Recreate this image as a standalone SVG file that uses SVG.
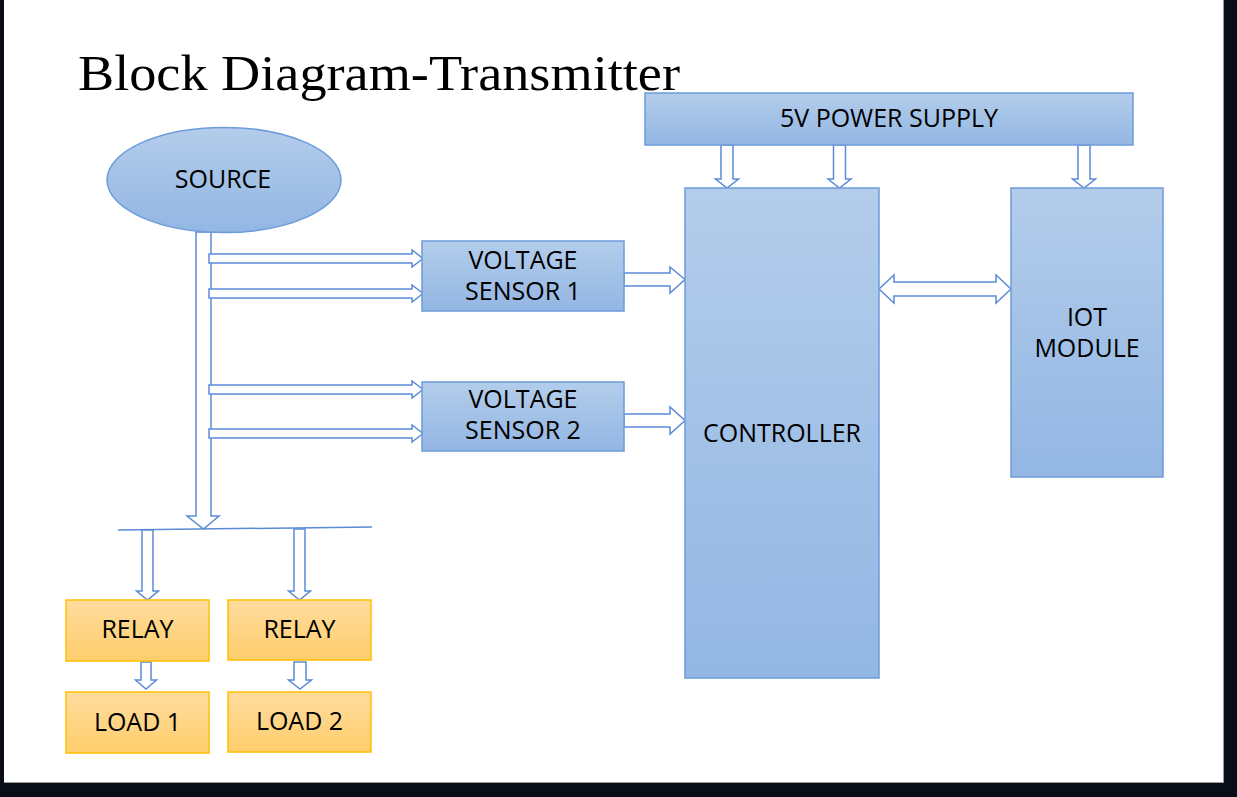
<svg xmlns="http://www.w3.org/2000/svg" width="1237" height="797" viewBox="0 0 1237 797">
<style>
.blk{stroke:#6E9BD9;stroke-width:1.5}
.org{stroke:#FFC000;stroke-width:1.5}
.lbl{font-family:"Open Sans","Noto Sans","Liberation Sans",sans-serif;font-size:25px;fill:#000;text-anchor:middle}
.arr{fill:#FFFFFF;stroke:#5B8BD6;stroke-width:1.5;stroke-linejoin:miter}
.ln{stroke:#5B8BD6;stroke-width:1.5;fill:none}
</style>
<defs>
<linearGradient id="gb" x1="0" y1="0" x2="0" y2="1">
<stop offset="0" stop-color="#B3CDEB"/>
<stop offset="1" stop-color="#93B6E3"/>
</linearGradient>
<linearGradient id="go" x1="0" y1="0" x2="0" y2="1">
<stop offset="0" stop-color="#FFDC9E"/>
<stop offset="1" stop-color="#FFCE6C"/>
</linearGradient>
</defs>
<rect x="0" y="0" width="1237" height="797" fill="#080D17"/>
<rect x="4" y="0" width="1220" height="783" fill="#FFFFFF"/>
<line x1="1223.5" y1="0" x2="1223.5" y2="783" stroke="#9A9A9A" stroke-width="1"/>
<line x1="4" y1="782.5" x2="1224" y2="782.5" stroke="#9A9A9A" stroke-width="1"/>

<text x="78" y="90" font-family="'Liberation Serif','Times New Roman',serif" font-size="50" textLength="602" lengthAdjust="spacingAndGlyphs" fill="#000">Block Diagram-Transmitter</text>

<g id="connectors">
<polygon class="arr" points="196,232 211,232 211,516 219,516 203.5,529 187,516 196,516"/>
<polygon class="arr" points="209,254 412,254 412,250 423,258.5 412,267 412,263 209,263"/>
<polygon class="arr" points="209,289 412,289 412,285 423,293.5 412,302 412,298 209,298"/>
<polygon class="arr" points="209,385 412,385 412,381 423,389.5 412,398 412,394 209,394"/>
<polygon class="arr" points="209,429 412,429 412,425 423,433.5 412,442 412,438 209,438"/>
<polygon class="arr" points="624,273 670,273 670,267 685,279.5 670,293 670,286 624,286"/>
<polygon class="arr" points="624,414 670,414 670,407 685,420.5 670,434 670,427 624,427"/>
<polygon class="arr" points="894,282 996,282 996,275 1011,289 996,303 996,296 894,296 894,303 879,289 894,275"/>
<polygon class="arr" points="721,145 733,145 733,179 738.5,179 727,188 715.5,179 721,179"/>
<polygon class="arr" points="833.5,145 845.5,145 845.5,179 851,179 839.5,188 828,179 833.5,179"/>
<polygon class="arr" points="1078,145 1090,145 1090,179 1095.5,179 1084,188 1072.5,179 1078,179"/>
<line class="ln" x1="118" y1="530" x2="372" y2="527"/>
<polygon class="arr" points="142,530 153,530 153,591 158.5,591 147.5,600 136.5,591 142,591"/>
<polygon class="arr" points="294,529 305,529 305,591 310.5,591 299.5,600 288.5,591 294,591"/>
<polygon class="arr" points="141,662 151,662 151,680 156.5,680 146,689 135.5,680 141,680"/>
<polygon class="arr" points="294,662 306,662 306,680 311.5,680 300,689 288.5,680 294,680"/>
</g>

<g id="source">
<ellipse class="blk" cx="224" cy="180" rx="117" ry="52.5" fill="url(#gb)"/>
<text class="lbl" x="223" y="188">SOURCE</text>
</g>
<g id="power">
<rect class="blk" x="645" y="93" width="488" height="52" fill="url(#gb)"/>
<text class="lbl" x="889" y="127">5V POWER SUPPLY</text>
</g>
<g id="sensor1">
<rect class="blk" x="422" y="241" width="202" height="70" fill="url(#gb)"/>
<text class="lbl" x="523" y="269">VOLTAGE</text>
<text class="lbl" x="523" y="300">SENSOR 1</text>
</g>
<g id="sensor2">
<rect class="blk" x="422" y="382" width="202" height="69" fill="url(#gb)"/>
<text class="lbl" x="523" y="408">VOLTAGE</text>
<text class="lbl" x="523" y="439">SENSOR 2</text>
</g>
<g id="controller">
<rect class="blk" x="685" y="188" width="194" height="490" fill="url(#gb)"/>
<text class="lbl" x="782" y="442">CONTROLLER</text>
</g>
<g id="iot">
<rect class="blk" x="1011" y="188" width="152" height="289" fill="url(#gb)"/>
<text class="lbl" x="1087" y="326">IOT</text>
<text class="lbl" x="1087" y="357">MODULE</text>
</g>
<g id="relay1">
<rect class="org" x="66" y="600" width="143" height="61" fill="url(#go)"/>
<text class="lbl" x="137.5" y="638">RELAY</text>
</g>
<g id="relay2">
<rect class="org" x="228" y="600" width="143" height="60" fill="url(#go)"/>
<text class="lbl" x="299.5" y="638">RELAY</text>
</g>
<g id="load1">
<rect class="org" x="66" y="692" width="143" height="61" fill="url(#go)"/>
<text class="lbl" x="137.5" y="731">LOAD 1</text>
</g>
<g id="load2">
<rect class="org" x="228" y="692" width="143" height="60" fill="url(#go)"/>
<text class="lbl" x="299.5" y="730">LOAD 2</text>
</g>
</svg>
